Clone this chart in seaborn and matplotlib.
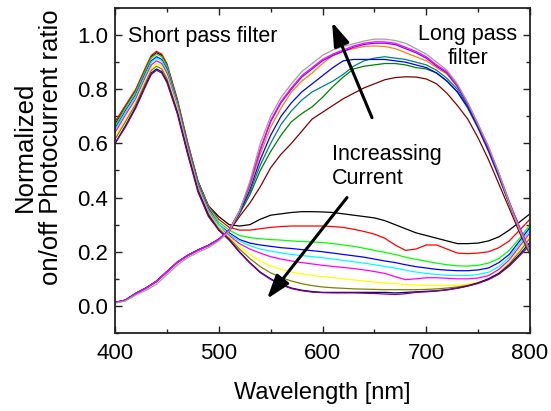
import matplotlib
matplotlib.use("Agg")
import matplotlib.pyplot as plt
import seaborn as sns
import numpy as np
import pandas as pd
from matplotlib.ticker import MultipleLocator

# ---------------- data ----------------
# wavelength grid of the "short pass" curves (finer around the 440 nm peak)
wl_short = [400, 410, 420, 430, 435, 440, 445, 450, 460, 470, 480, 490, 500,
            510, 520, 530, 540, 550, 560, 570, 580, 590, 600,
            610, 620, 630, 640, 650, 660, 670, 680, 690, 700,
            710, 720, 730, 740, 750, 760, 770, 780, 790, 800]
# wavelength grid of the "long pass" curves
wl_long = list(range(400, 801, 10))

# "short pass" curves (peak near 440 nm)
sp_black = [0.67,0.735,0.795,0.88,0.92,0.935,0.925,0.89,0.76,0.60,0.46,0.37,0.33, 0.30,0.295,0.30,0.32,0.335,0.34,0.345,0.348,0.348,0.347, 0.345,0.34,0.335,0.33,0.325,0.315,0.30,0.285,0.27,0.26, 0.25,0.24,0.23,0.23,0.232,0.24,0.255,0.28,0.31,0.34]
sp_red = [0.68,0.74,0.80,0.885,0.925,0.94,0.93,0.895,0.765,0.605,0.46,0.37,0.32, 0.29,0.28,0.28,0.285,0.29,0.293,0.295,0.295,0.295,0.295, 0.293,0.29,0.283,0.275,0.265,0.25,0.225,0.205,0.21,0.225, 0.225,0.21,0.195,0.193,0.195,0.20,0.215,0.24,0.28,0.32]
sp_green = [0.665,0.73,0.79,0.875,0.915,0.93,0.92,0.885,0.755,0.595,0.455,0.365,0.31, 0.28,0.26,0.252,0.248,0.245,0.243,0.24,0.238,0.236,0.234, 0.23,0.225,0.22,0.213,0.205,0.198,0.19,0.18,0.172,0.165, 0.158,0.152,0.148,0.147,0.15,0.158,0.175,0.205,0.25,0.30]
sp_blue = [0.655,0.72,0.78,0.865,0.905,0.92,0.91,0.875,0.75,0.59,0.45,0.36,0.30, 0.27,0.245,0.232,0.225,0.22,0.215,0.212,0.208,0.204,0.20, 0.195,0.19,0.185,0.18,0.173,0.166,0.16,0.152,0.145,0.14, 0.135,0.132,0.13,0.13,0.133,0.14,0.16,0.19,0.24,0.29]
sp_cyan = [0.65,0.715,0.775,0.86,0.90,0.915,0.905,0.87,0.745,0.585,0.445,0.355,0.30, 0.265,0.24,0.222,0.21,0.202,0.196,0.19,0.186,0.182,0.178, 0.173,0.168,0.163,0.158,0.152,0.146,0.14,0.132,0.125,0.12, 0.116,0.113,0.112,0.112,0.116,0.124,0.145,0.18,0.23,0.28]
sp_magenta = [0.64,0.705,0.765,0.85,0.89,0.905,0.895,0.86,0.735,0.58,0.44,0.35,0.29, 0.26,0.23,0.21,0.195,0.182,0.173,0.166,0.16,0.155,0.15, 0.146,0.142,0.138,0.133,0.127,0.12,0.108,0.097,0.10,0.104, 0.104,0.102,0.10,0.10,0.103,0.112,0.135,0.17,0.22,0.27]
sp_yellow = [0.625,0.69,0.755,0.84,0.88,0.895,0.885,0.85,0.73,0.575,0.435,0.345,0.29, 0.255,0.22,0.19,0.165,0.148,0.135,0.125,0.118,0.113,0.108, 0.104,0.10,0.096,0.092,0.088,0.085,0.082,0.079,0.077,0.076, 0.075,0.075,0.076,0.08,0.088,0.10,0.125,0.16,0.21,0.26]
sp_olive = [0.615,0.68,0.745,0.83,0.87,0.885,0.875,0.84,0.72,0.57,0.43,0.34,0.285, 0.25,0.21,0.175,0.145,0.122,0.105,0.092,0.082,0.075,0.07, 0.067,0.065,0.063,0.062,0.061,0.06,0.06,0.06,0.06,0.061, 0.063,0.066,0.07,0.076,0.085,0.10,0.12,0.155,0.20,0.25]
sp_navy = [0.60,0.665,0.735,0.82,0.86,0.875,0.865,0.83,0.715,0.565,0.425,0.335,0.28, 0.245,0.20,0.16,0.125,0.10,0.08,0.066,0.058,0.053,0.05, 0.05,0.05,0.05,0.05,0.05,0.05,0.048,0.05,0.052,0.054, 0.056,0.06,0.066,0.074,0.085,0.10,0.12,0.15,0.19,0.235]
sp_purple = [0.60,0.66,0.73,0.815,0.855,0.87,0.86,0.825,0.71,0.56,0.42,0.33,0.28, 0.243,0.198,0.158,0.123,0.098,0.078,0.064,0.056,0.051,0.049, 0.048,0.048,0.048,0.047,0.046,0.044,0.042,0.045,0.05,0.052, 0.055,0.059,0.065,0.073,0.083,0.097,0.117,0.147,0.185,0.225]

# "long pass" curves (broad peak near 650 nm)
lp_wine = [0.013,0.022,0.047,0.067,0.092,0.127,0.162,0.187,0.207,0.224,0.246,0.275, 0.33,0.38,0.44,0.51,0.56,0.60,0.645,0.69,0.715, 0.74,0.765,0.785,0.805,0.82,0.835,0.843,0.846,0.845,0.838, 0.82,0.785,0.74,0.69,0.62,0.54,0.45,0.36,0.27,0.19]
lp_green = [0.013,0.021,0.046,0.066,0.091,0.126,0.161,0.186,0.206,0.223,0.246,0.278, 0.34,0.41,0.50,0.57,0.63,0.68,0.71,0.735,0.77, 0.81,0.845,0.875,0.885,0.89,0.895,0.895,0.89,0.88,0.875, 0.86,0.83,0.79,0.73,0.655,0.57,0.475,0.375,0.28,0.19]
lp_teal = [0.013,0.021,0.046,0.066,0.091,0.126,0.161,0.186,0.206,0.223,0.246,0.28, 0.345,0.42,0.52,0.60,0.67,0.72,0.76,0.79,0.81, 0.83,0.855,0.885,0.905,0.915,0.92,0.915,0.91,0.90,0.89, 0.87,0.84,0.80,0.74,0.665,0.58,0.48,0.38,0.285,0.195]
lp_blue = [0.013,0.021,0.046,0.066,0.091,0.126,0.161,0.186,0.206,0.223,0.246,0.28, 0.345,0.43,0.54,0.63,0.70,0.75,0.79,0.82,0.85, 0.88,0.905,0.91,0.91,0.91,0.91,0.905,0.90,0.89,0.88, 0.86,0.83,0.79,0.735,0.66,0.575,0.48,0.38,0.285,0.20]
lp_orange = [0.012,0.02,0.045,0.065,0.09,0.125,0.16,0.185,0.205,0.222,0.245,0.28, 0.35,0.44,0.56,0.66,0.73,0.79,0.83,0.86,0.895, 0.925,0.94,0.95,0.958,0.96,0.958,0.95,0.935,0.92,0.905, 0.88,0.855,0.81,0.745,0.67,0.585,0.49,0.385,0.29,0.20]
lp_violet = [0.012,0.021,0.046,0.066,0.09,0.125,0.16,0.186,0.206,0.223,0.246,0.28, 0.35,0.45,0.575,0.68,0.75,0.80,0.845,0.875,0.905, 0.925,0.94,0.955,0.965,0.97,0.97,0.965,0.95,0.935,0.915, 0.885,0.86,0.81,0.745,0.665,0.58,0.485,0.38,0.285,0.20]
lp_pink = [0.012,0.02,0.045,0.065,0.09,0.125,0.16,0.185,0.205,0.222,0.245,0.28, 0.35,0.45,0.58,0.685,0.755,0.805,0.85,0.88,0.91, 0.93,0.945,0.96,0.97,0.975,0.975,0.97,0.955,0.94,0.92, 0.89,0.865,0.815,0.75,0.67,0.585,0.49,0.385,0.29,0.205]
lp_gray = [0.01,0.018,0.04,0.058,0.08,0.115,0.15,0.178,0.198,0.215,0.24,0.275, 0.35,0.46,0.60,0.70,0.77,0.82,0.865,0.895,0.925, 0.945,0.958,0.968,0.978,0.985,0.985,0.98,0.97,0.95,0.93, 0.90,0.87,0.82,0.75,0.67,0.59,0.49,0.38,0.28,0.20]

x_ticks = [400, 500, 600, 700, 800]
y_ticks = [0.0, 0.2, 0.4, 0.6, 0.8, 1.0]

short_series = [
    (sp_black, "#000000"), (sp_red, "#ff0000"), (sp_green, "#00ff00"),
    (sp_blue, "#0000ff"), (sp_cyan, "#00ffff"), (sp_magenta, "#ff00ff"),
    (sp_yellow, "#ffff00"), (sp_olive, "#808000"), (sp_navy, "#000080"),
    (sp_purple, "#800080"),
]
long_series = [
    (lp_wine, "#800000"), (lp_green, "#008000"), (lp_teal, "#008080"),
    (lp_blue, "#0000ff"), (lp_orange, "#ff8000"), (lp_violet, "#8000ff"),
    (lp_pink, "#ff00ff"), (lp_gray, "#a0a0a0"),
]

# ---------------- style ----------------
sns.set_theme(style="ticks")
plt.rcParams["font.family"] = ["Liberation Sans", "DejaVu Sans"]
plt.rcParams["text.color"] = "black"
plt.rcParams["axes.labelcolor"] = "black"
plt.rcParams["xtick.color"] = "black"
plt.rcParams["ytick.color"] = "black"

fig = plt.figure(figsize=(5.51, 4.11), dpi=100)
ax = fig.add_axes([115/551, 1-333/411, 415/551, 325/411])

for vals, col in short_series:
    sns.lineplot(x=wl_short, y=vals, color=col, lw=0.9, ax=ax)
for vals, col in long_series:
    sns.lineplot(x=wl_long, y=vals, color=col, lw=0.9, ax=ax)

ax.set_xlim(400, 800)
ax.set_ylim(-0.1, 1.1)
ax.set_xticks(x_ticks)
ax.set_yticks(y_ticks)
ax.set_yticklabels([f"{v:.1f}" for v in y_ticks])
ax.xaxis.set_minor_locator(MultipleLocator(50))
ax.yaxis.set_minor_locator(MultipleLocator(0.1))
ax.tick_params(which="both", direction="in", top=True, right=True,
               color="#222222", labelcolor="black", width=1.0)
ax.tick_params(which="major", length=5)
ax.tick_params(which="minor", length=3)
ax.tick_params(axis="x", which="major", labelsize=16, pad=7)
ax.tick_params(axis="y", which="major", labelsize=16, pad=5)
for s in ax.spines.values():
    s.set_color("#222222")
    s.set_linewidth(1.3)

ax.set_xlabel("Wavelength [nm]", fontsize=17, labelpad=13, color="black")
ax.set_ylabel("Normalized\non/off Photocurrent ratio", fontsize=18.5,
              multialignment="center", linespacing=1.08, color="black")
ax.yaxis.label.set_verticalalignment("center")
ax.yaxis.set_label_coords(-0.1855, 0.572)

ax.text(412.5, 0.974, "Short pass filter", fontsize=15.5, ha="left", va="baseline")
ax.text(740, 0.893, "Long pass\nfilter", fontsize=15.5, ha="center", va="baseline",
        multialignment="center", linespacing=1.2)
ax.text(609, 0.449, "Increassing\nCurrent", fontsize=15.5, ha="left", va="baseline",
        linespacing=1.2)

arrow = dict(arrowstyle="-|>,head_length=0.9,head_width=0.3", lw=2.2,
             color="black", mutation_scale=16, shrinkA=0, shrinkB=0)
ax.annotate("", xy=(609.2, 1.048), xytext=(647.7, 0.695), arrowprops=arrow)
ax.annotate("", xy=(546.5, 0.026), xytext=(623.6, 0.40), arrowprops=arrow)

fig.savefig("out.png", dpi=100)
